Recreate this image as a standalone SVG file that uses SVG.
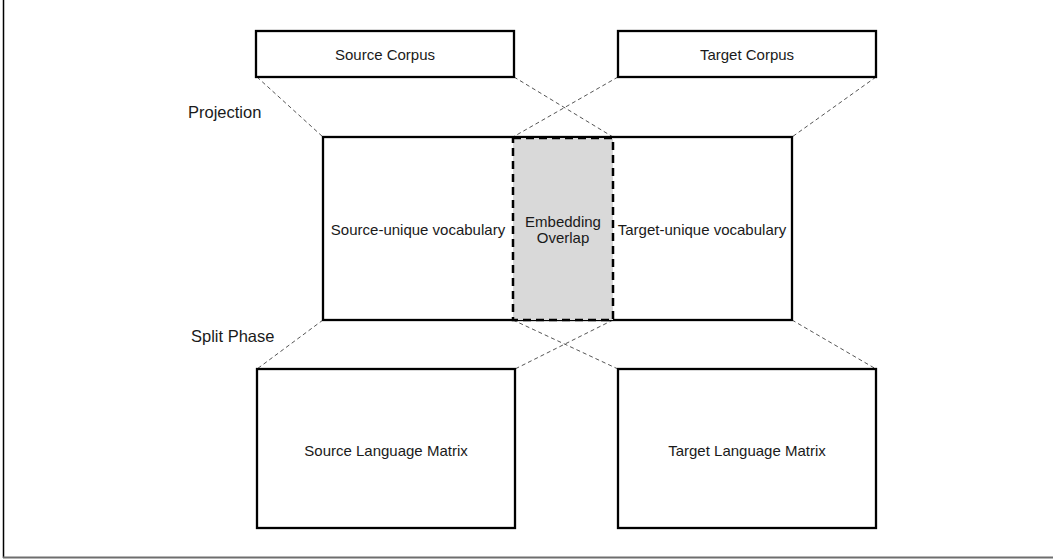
<svg xmlns="http://www.w3.org/2000/svg" width="1053" height="560" viewBox="0 0 1053 560">
  <style>
    .box { fill: #ffffff; stroke: #000000; stroke-width: 2.3; }
    .overlap { fill: #d9d9d9; stroke: #000000; stroke-width: 2.5; stroke-dasharray: 8 5; }
    .link { stroke: #555555; stroke-width: 1; stroke-dasharray: 4 3; fill: none; }
    .label { font-family: "Liberation Sans", Arial, sans-serif; font-size: 15px; fill: #1a1a1a; text-anchor: middle; dominant-baseline: central; }
    .stage { font-family: "Liberation Sans", Arial, sans-serif; font-size: 16.5px; fill: #1a1a1a; dominant-baseline: central; }
  </style>

  <rect x="0" y="0" width="1053" height="560" fill="#ffffff"/>

  <!-- frame edges -->
  <line x1="3.5" y1="0" x2="3.5" y2="558" stroke="#000000" stroke-width="1.5"/>
  <line x1="3" y1="557.5" x2="1053" y2="557.5" stroke="#6e6e6e" stroke-width="2"/>

  <!-- stage captions -->
  <text class="stage" x="188" y="112">Projection</text>
  <text class="stage" x="191" y="336">Split Phase</text>

  <!-- dashed projection / split connectors -->
  <g id="connectors">
    <line class="link" x1="257" y1="77" x2="323" y2="137"/>
    <line class="link" x1="514" y1="77" x2="613" y2="137"/>
    <line class="link" x1="618" y1="77" x2="513" y2="137"/>
    <line class="link" x1="876" y1="77" x2="792" y2="137"/>
    <line class="link" x1="323" y1="320" x2="257" y2="369"/>
    <line class="link" x1="513" y1="320" x2="618" y2="369"/>
    <line class="link" x1="613" y1="320" x2="515" y2="369"/>
    <line class="link" x1="792" y1="320" x2="876" y2="369"/>
  </g>

  <g id="source-corpus">
    <rect class="box" x="256" y="31" width="258" height="46"/>
    <text class="label" x="385" y="54">Source Corpus</text>
  </g>

  <g id="target-corpus">
    <rect class="box" x="618" y="31" width="258" height="46"/>
    <text class="label" x="747" y="54">Target Corpus</text>
  </g>

  <g id="shared-space">
    <rect class="box" x="323" y="137" width="469" height="183"/>
    <text class="label" x="418" y="229">Source-unique vocabulary</text>
    <text class="label" x="702" y="229">Target-unique vocabulary</text>
  </g>

  <g id="embedding-overlap">
    <rect class="overlap" x="513" y="138" width="100" height="182"/>
    <text class="label" x="563" y="221">Embedding</text>
    <text class="label" x="563" y="237">Overlap</text>
  </g>

  <g id="source-matrix">
    <rect class="box" x="257" y="369" width="258" height="159"/>
    <text class="label" x="386" y="450">Source Language Matrix</text>
  </g>

  <g id="target-matrix">
    <rect class="box" x="618" y="369" width="258" height="159"/>
    <text class="label" x="747" y="450">Target Language Matrix</text>
  </g>
</svg>
